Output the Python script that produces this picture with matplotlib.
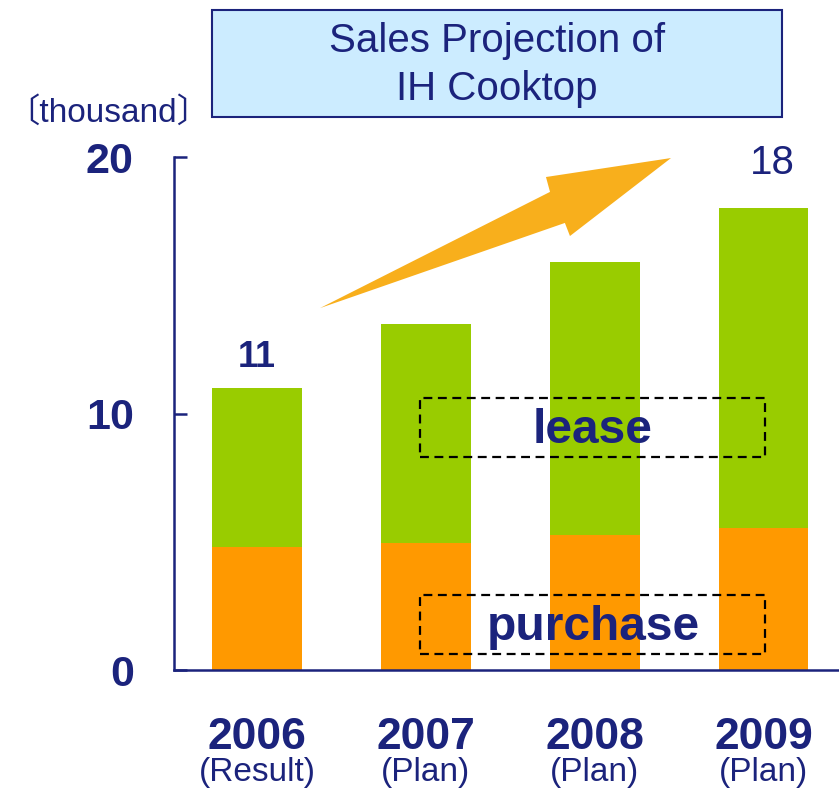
import matplotlib.pyplot as plt
from matplotlib.patches import Rectangle, Polygon
import matplotlib.transforms as mtransforms

# =========================
# DATA
# =========================

years = ["2006", "2007", "2008", "2009"]
notes = ["(Result)", "(Plan)", "(Plan)", "(Plan)"]
purchase = [4.8, 4.95, 5.25, 5.55]
lease = [6.2, 8.55, 10.65, 12.45]
value_labels = {0: "11", 3: "18"}

NAVY = "#1B237C"
GREEN = "#99CC00"
ORANGE = "#FF9900"
SANS = ["Liberation Sans", "DejaVu Sans"]

# =========================
# FIGURE
# =========================

fig = plt.figure(figsize=(8.39, 7.89), dpi=100)
ax = fig.add_axes([0.2074, 0.1508, 0.7926, 0.6502])

x = list(range(len(years)))
ax.bar(x, purchase, width=0.527, color=ORANGE, zorder=2)
ax.bar(x, lease, width=0.527, bottom=purchase, color=GREEN, zorder=2)

ax.set_xlim(-0.491, 3.444)
ax.set_ylim(0, 20)

for s in ["top", "right"]:
    ax.spines[s].set_visible(False)
for s in ["left", "bottom"]:
    ax.spines[s].set_color(NAVY)
    ax.spines[s].set_linewidth(1.8)

ax.set_xticks([])
ax.set_yticks([0, 10, 20])
ax.tick_params(axis="y", direction="in", length=9, width=1.8,
               color=NAVY, pad=29)
for lbl in ax.get_yticklabels():
    lbl.set_family(SANS)
    lbl.set_fontweight("bold")
    lbl.set_fontsize(31)
    lbl.set_color(NAVY)

# year labels below the axis
trans = mtransforms.blended_transform_factory(ax.transData, ax.transAxes)
for i in x:
    ax.text(i, -0.132, years[i], transform=trans, ha="center", va="center",
            family=SANS, fontweight="bold", fontsize=32, color=NAVY)
    ax.text(i, -0.2, notes[i], transform=trans, ha="center", va="center",
            family=SANS, fontsize=24, color=NAVY)

# totals above first and last bar
totals = [p + l for p, l in zip(purchase, lease)]
ax.text(0, totals[0] + 1.2, value_labels[0], ha="center", va="center",
        family=SANS, fontweight="bold", fontsize=26, color=NAVY)
ax.text(3.05, totals[3] + 1.75, value_labels[3], ha="center", va="center",
        family=SANS, fontsize=29, color=NAVY)

# dashed boxes with segment names
for (y0, y1), name, base in [((8.3, 10.6), "lease", 8.85),
                             ((0.62, 2.92), "purchase", 1.17)]:
    ax.add_patch(Rectangle((0.964, y0), 3.006 - 0.964, y1 - y0, fill=False,
                           edgecolor="black", linewidth=1.6,
                           linestyle=(0, (4, 2.5)), zorder=3))
    ax.text(1.988, base, name, ha="center", va="baseline",
            family=SANS, fontweight="bold", fontsize=34.5, color=NAVY,
            zorder=4)

# growth arrow
arrow_shape = [(0.373, 14.11), (1.734, 18.64), (1.710, 19.22), (2.450, 19.96),
               (1.852, 16.92), (1.822, 17.43)]
ax.add_patch(Polygon(arrow_shape, closed=True, facecolor="#F8AF1C",
                     edgecolor="none", clip_on=False, zorder=4))

# title box
fig.patches.append(Rectangle((0.2527, 0.8517), 0.932 - 0.2527, 0.9873 - 0.8517,
                             transform=fig.transFigure, facecolor="#CCECFF",
                             edgecolor=NAVY, linewidth=1.5))
fig.text(0.5925, 0.9175, "Sales Projection of\nIH Cooktop", ha="center",
         va="center", family=SANS, fontsize=29, color=NAVY,
         linespacing=1.32)

# unit label
fig.text(0.1288, 0.857, "\u3014thousand\u3015", ha="center", va="center",
         family=["Liberation Sans", "Noto Sans CJK JP"], fontsize=24,
         color=NAVY)

plt.savefig("out.png", dpi=100)
